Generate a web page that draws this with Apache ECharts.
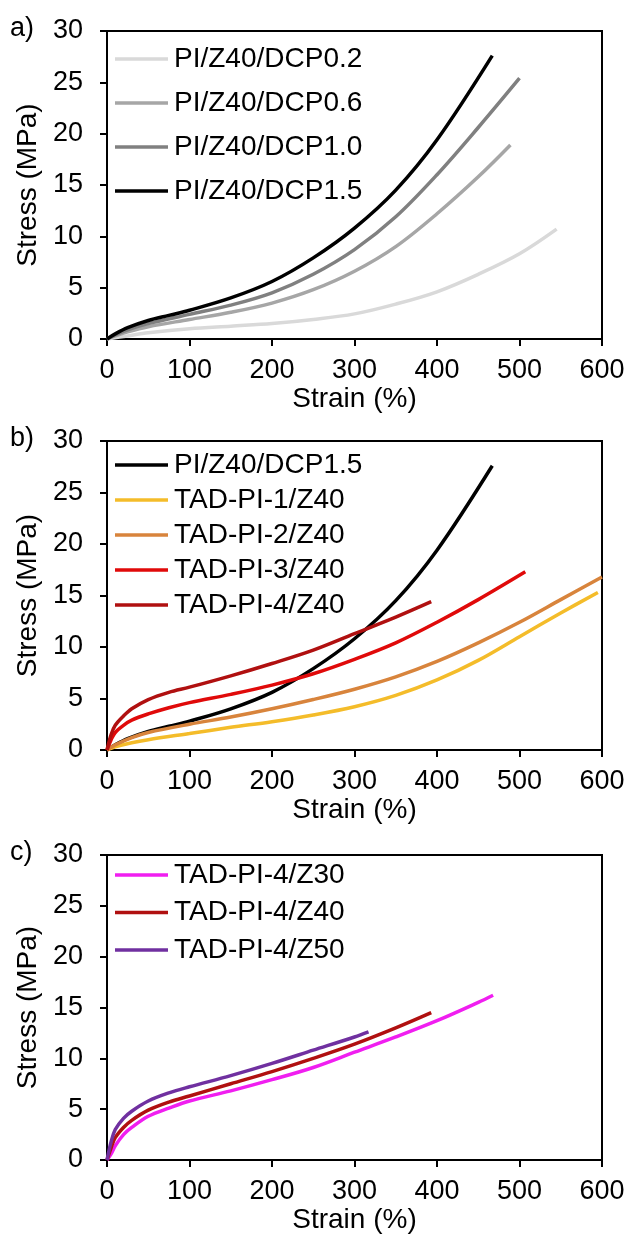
<!DOCTYPE html>
<html>
<head>
<meta charset="utf-8">
<script src="https://cdn.jsdelivr.net/npm/echarts@6/dist/echarts.min.js"></script>
<style>html,body{margin:0;padding:0;background:#fff;}#c{width:630px;height:1236px;}</style>
</head>
<body>
<div id="c"></div>
<script>
// ---- data (strain %, stress MPa) ----
const xTicks = [0, 100, 200, 300, 400, 500, 600];
const yTicks = [0, 5, 10, 15, 20, 25, 30];

// panel a
const dcp02 = [[0,0],[25,0.3],[50,0.6],[100,1.0],[150,1.25],[200,1.5],[250,1.9],[300,2.45],[350,3.4],[400,4.6],[450,6.3],[500,8.3],[545,10.7]];
const dcp06 = [[0,0],[10,0.3],[25,0.7],[50,1.2],[100,1.9],[150,2.6],[200,3.5],[250,4.8],[300,6.6],[350,9.0],[400,12.2],[450,15.8],[489,18.9]];
const dcp10 = [[0,0],[10,0.4],[25,0.9],[50,1.5],[100,2.4],[150,3.3],[200,4.5],[250,6.3],[300,8.7],[350,11.9],[400,16.0],[450,20.6],[500,25.4]];
const dcp15 = [[0,0],[10,0.5],[25,1.1],[50,1.8],[75,2.3],[100,2.8],[150,4.0],[200,5.6],[250,7.9],[300,10.8],[350,14.5],[400,19.4],[467,27.6]];

// panel b
const tad1z40 = [[0,0],[10,0.3],[30,0.7],[50,1.0],[100,1.6],[150,2.2],[200,2.75],[250,3.4],[300,4.2],[350,5.3],[400,6.8],[450,8.7],[500,11.0],[550,13.3],[595,15.3]];
const tad2z40 = [[0,0],[10,0.5],[30,1.2],[50,1.7],[100,2.5],[150,3.2],[200,4.0],[250,4.9],[300,5.9],[350,7.1],[400,8.6],[450,10.4],[500,12.4],[550,14.6],[600,16.8]];
const tad3z40 = [[0,0],[5,1.0],[10,1.7],[20,2.4],[30,2.9],[50,3.5],[75,4.1],[100,4.6],[150,5.4],[200,6.3],[250,7.4],[300,8.8],[350,10.4],[400,12.4],[450,14.6],[507,17.3]];
const tad4z40b = [[0,0],[5,1.5],[10,2.4],[20,3.3],[30,4.0],[50,4.9],[75,5.6],[100,6.1],[150,7.2],[200,8.4],[250,9.7],[300,11.3],[350,12.9],[393,14.4]];

// panel c
const tad4z30 = [[0,0],[5,0.6],[10,1.4],[20,2.5],[30,3.2],[50,4.3],[75,5.1],[100,5.8],[150,6.8],[200,7.9],[250,9.1],[300,10.6],[350,12.1],[400,13.7],[450,15.5],[468,16.2]];
const tad4z40c = [[0,0],[5,1.2],[10,2.2],[20,3.2],[30,3.9],[50,4.9],[75,5.7],[100,6.3],[150,7.5],[200,8.7],[250,10.0],[300,11.4],[350,13.0],[393,14.5]];
const tad4z50 = [[0,0],[5,1.8],[10,3.0],[20,4.1],[30,4.8],[50,5.8],[75,6.6],[100,7.2],[150,8.3],[200,9.5],[250,10.8],[300,12.1],[317,12.6]];

const namesA = ['PI/Z40/DCP0.2','PI/Z40/DCP0.6','PI/Z40/DCP1.0','PI/Z40/DCP1.5'];
const namesB = ['PI/Z40/DCP1.5','TAD-PI-1/Z40','TAD-PI-2/Z40','TAD-PI-3/Z40','TAD-PI-4/Z40'];
const namesC = ['TAD-PI-4/Z30','TAD-PI-4/Z40','TAD-PI-4/Z50'];

const FONT = 'Liberation Sans, Arial, sans-serif';
const panels = [
  {letter:'a)', top:31, height:308, names:namesA, data:[dcp02,dcp06,dcp10,dcp15], colors:['#d9d9d9','#a6a6a6','#808080','#000000'], legendTop:45, gap:16},
  {letter:'b)', top:441, height:309, names:namesB, data:[dcp15,tad1z40,tad2z40,tad3z40,tad4z40b], colors:['#000000','#f4bc2a','#d8843c','#e00a0a','#b01010'], legendTop:451, gap:7},
  {letter:'c)', top:855, height:305, names:namesC, data:[tad4z30,tad4z40c,tad4z50], colors:['#f01ef0','#b01010','#7030a0'], legendTop:861, gap:9.5}
];

const grid = [], xAxis = [], yAxis = [], series = [], legend = [], graphic = [];
panels.forEach((p, i) => {
  grid.push({left:107, right:28, top:p.top, height:p.height, show:true, borderColor:'#000', borderWidth:2, backgroundColor:'transparent'});
  xAxis.push({type:'value', gridIndex:i, min:xTicks[0], max:xTicks[xTicks.length-1], interval:100,
    name:'Strain (%)', nameLocation:'middle', nameGap:38,
    nameTextStyle:{fontFamily:FONT, fontSize:28, color:'#000'},
    axisLine:{show:true, onZero:false, lineStyle:{color:'#000', width:2}},
    axisTick:{show:true, length:7, lineStyle:{color:'#000', width:2}},
    axisLabel:{fontFamily:FONT, fontSize:27, color:'#000', margin:18},
    splitLine:{show:false}});
  yAxis.push({type:'value', gridIndex:i, min:yTicks[0], max:yTicks[yTicks.length-1], interval:5,
    name:'Stress (MPa)', nameLocation:'middle', nameGap:62, nameRotate:90,
    nameTextStyle:{fontFamily:FONT, fontSize:28, color:'#000'},
    axisLine:{show:true, onZero:false, lineStyle:{color:'#000', width:2}},
    axisTick:{show:true, length:7, lineStyle:{color:'#000', width:2}},
    axisLabel:{fontFamily:FONT, fontSize:27, color:'#000', margin:24},
    splitLine:{show:false}});
  p.names.forEach((n, k) => {
    series.push({type:'line', name:n, xAxisIndex:i, yAxisIndex:i, data:p.data[k],
      smooth:0.35, showSymbol:false, symbol:'none',
      lineStyle:{color:p.colors[k], width:3.5}, itemStyle:{color:p.colors[k]}, z: 2 + k});
  });
  legend.push({orient:'vertical', left:115, top:p.legendTop, itemGap:p.gap, padding:0,
    itemWidth:53, itemHeight:3.5, icon:'rect', selectedMode:false,
    data:p.names.map((n, k) => ({name:n, itemStyle:{color:p.colors[k]}})),
    textStyle:{fontFamily:FONT, fontSize:28, color:'#000', padding:[0,0,0,1]}});
  graphic.push({type:'text', left:10, top:p.top - 16, style:{text:p.letter, font:'27px ' + FONT, fill:'#000'}});
});

const chart = echarts.init(document.getElementById('c'), null, {renderer:'canvas'});
chart.setOption({animation:false, backgroundColor:'#fff', grid, xAxis, yAxis, series, legend, graphic});
</script>
</body>
</html>
